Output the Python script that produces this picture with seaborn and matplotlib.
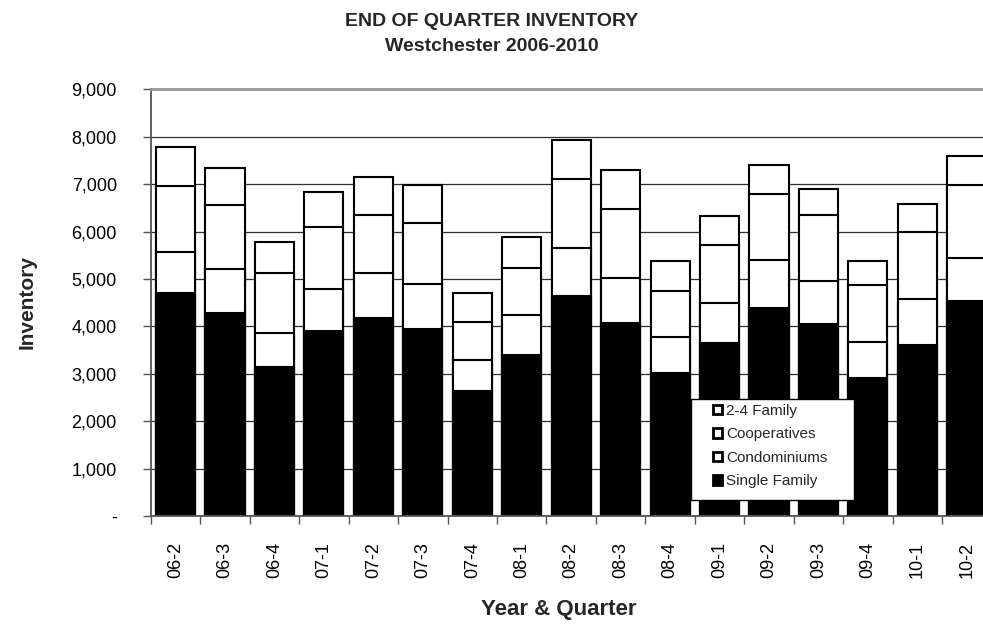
import matplotlib
matplotlib.use("Agg")
import matplotlib.pyplot as plt
from matplotlib.patches import Patch, Rectangle
from matplotlib.ticker import FuncFormatter, FixedLocator
import numpy as np
import pandas as pd
import seaborn as sns

# End-of-quarter inventory by property type, Westchester
quarters = ["06-2", "06-3", "06-4", "07-1", "07-2", "07-3", "07-4", "08-1", "08-2",
            "08-3", "08-4", "09-1", "09-2", "09-3", "09-4", "10-1", "10-2"]
single_family = [4700, 4290, 3150, 3910, 4180, 3940, 2640, 3400, 4650,
                 4080, 3010, 3640, 4395, 4045, 2910, 3610, 4535]
condominiums = [870, 930, 705, 870, 940, 955, 650, 840, 1010,
                950, 765, 845, 1005, 920, 755, 960, 915]
cooperatives = [1390, 1335, 1265, 1325, 1235, 1295, 795, 985, 1455,
                1445, 980, 1240, 1385, 1390, 1200, 1420, 1525]
two_four_family = [830, 780, 660, 735, 790, 795, 625, 670, 815,
                   825, 625, 605, 625, 550, 515, 585, 620]

series_names = ["Single Family", "Condominiums", "Cooperatives", "2-4 Family"]
series_colors = ["black", "white", "white", "white"]

sns.set_style("white")
plt.rcParams["font.family"] = ["Liberation Sans", "DejaVu Sans"]

df = pd.DataFrame({
    "quarter": quarters,
    "Single Family": single_family,
    "Condominiums": condominiums,
    "Cooperatives": cooperatives,
    "2-4 Family": two_four_family,
})
# running totals so each layer can be drawn from zero, tallest first
cum = df[series_names].cumsum(axis=1)
cum["quarter"] = df["quarter"]

fig = plt.figure(figsize=(9.83, 6.25), dpi=100)
ax = fig.add_axes([150.8 / 983, 1 - 516 / 625, (991.6 - 150.8) / 983, (516 - 89.3) / 625])

for name, col in reversed(list(zip(series_names, series_colors))):
    sns.barplot(data=cum, x="quarter", y=name, color=col, saturation=1,
                edgecolor="black", linewidth=1.5, width=0.79,
                errorbar=None, ax=ax, zorder=2)

ax.set_xlim(-0.5, len(quarters) - 0.5)
ax.set_ylim(0, 9000)
ax.set_axisbelow(True)
ax.yaxis.grid(True, color="#2e2e2e", linewidth=0.9)
ax.xaxis.grid(False)

ax.set_yticks(np.arange(0, 9001, 1000))
ax.yaxis.set_major_formatter(FuncFormatter(lambda v, p: "-" if v == 0 else f"{int(v):,}"))
ax.tick_params(axis="y", direction="out", length=5.5, width=1, color="#555555",
               labelsize=13, pad=19, labelcolor="black", left=True)

ax.set_xticks(range(len(quarters)))
ax.set_xticklabels(quarters, rotation=90)
ax.xaxis.set_minor_locator(FixedLocator(np.arange(-0.5, len(quarters), 1.0)))
ax.tick_params(axis="x", which="major", length=0, labelsize=13, pad=18.5, labelcolor="black")
ax.tick_params(axis="x", which="minor", direction="out", length=5.5, width=1,
               color="#555555", bottom=True)

ax.set_xlabel("")
ax.set_ylabel("")
for side in ["left", "bottom"]:
    ax.spines[side].set_color("#555555")
    ax.spines[side].set_linewidth(1.3)
ax.spines["top"].set_color("#9a9a9a")
ax.spines["top"].set_linewidth(2)
ax.spines["right"].set_visible(False)

fig.text(0.5, 1 - 22 / 625, "END OF QUARTER INVENTORY", ha="center", va="center",
         fontsize=14, fontweight="bold")
fig.text(0.5, 1 - 46.5 / 625, "Westchester 2006-2010", ha="center", va="center",
         fontsize=14, fontweight="bold")
fig.text(559 / 983, 1 - 609.5 / 625, "Year & Quarter", ha="center", va="center",
         fontsize=16, fontweight="bold")
fig.text(27 / 983, 1 - 302 / 625, "Inventory", ha="center", va="center",
         rotation=90, fontsize=15, fontweight="bold")

# legend box and entries, top layer listed first
fig.add_artist(Rectangle((691 / 983, 1 - 500 / 625), 163 / 983, 101 / 625,
                         transform=fig.transFigure, facecolor="white",
                         edgecolor="black", linewidth=1, zorder=3))
handles = [Patch(facecolor=c, edgecolor="black", linewidth=2)
           for c in reversed(series_colors)]
fig.legend(handles, list(reversed(series_names)), loc="upper left",
           bbox_to_anchor=(713 / 983, 1 - 404 / 625), frameon=False, fontsize=11,
           handlelength=0.6, handleheight=0.6, handletextpad=0.25,
           labelspacing=0.62, borderpad=0, borderaxespad=0)

fig.savefig("out.png", dpi=100)
